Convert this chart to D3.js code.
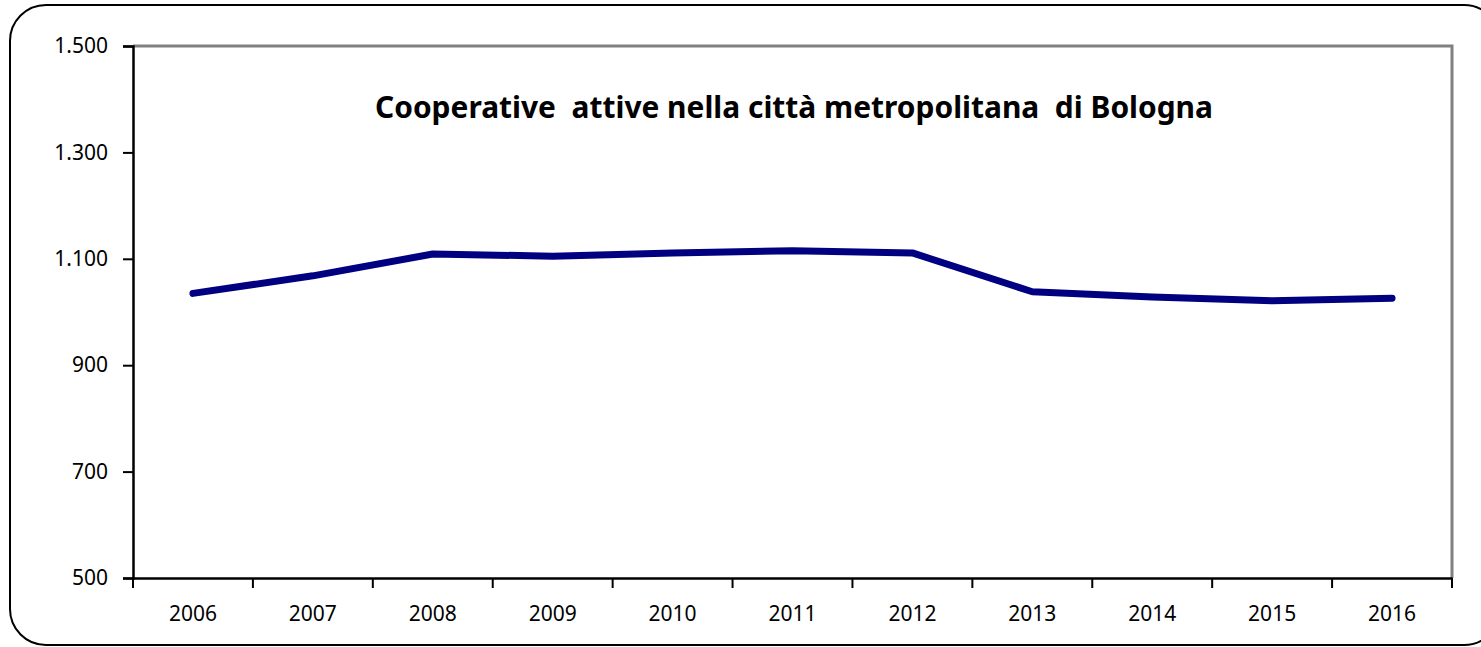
<!DOCTYPE html>
<html lang="it">
<head>
<meta charset="UTF-8">
<title>Cooperative attive nella città metropolitana di Bologna</title>
<style>
  html, body { margin: 0; padding: 0; background: #fff; }
  svg { display: block; font-family: "Noto Sans", sans-serif; }
</style>
</head>
<body>
<svg id="chart" width="1481" height="647"></svg>
<script src="https://cdn.jsdelivr.net/npm/d3@7"></script>
<script>
const years = ["2006", "2007", "2008", "2009", "2010", "2011", "2012", "2013", "2014", "2015", "2016"];
const cooperative = [1035, 1068, 1109, 1105, 1111, 1115, 1111, 1038, 1028, 1021, 1026];
const yTicks = [500, 700, 900, 1100, 1300, 1500];
const title = "Cooperative\u00a0 attive nella città metropolitana\u00a0 di Bologna";

const width = 1481, height = 647;
const margin = {top: 46, right: 29, bottom: 69, left: 133};

const svg = d3.select("#chart");

// rounded frame around the whole chart
svg.append("rect")
  .attr("x", 10).attr("y", 5)
  .attr("width", 1490).attr("height", 640)
  .attr("rx", 36).attr("ry", 36)
  .attr("fill", "#fff")
  .attr("stroke", "#000")
  .attr("stroke-width", 2);

const x = d3.scaleBand()
  .domain(years)
  .range([margin.left, width - margin.right]);

const y = d3.scaleLinear()
  .domain([500, 1500])
  .range([height - margin.bottom, margin.top]);

const fmt = d3.formatLocale({decimal: ",", thousands: ".", grouping: [3], currency: ["€", ""]}).format(",d");

// plot area: grey top and right edges
svg.append("path")
  .attr("d", `M${margin.left},${margin.top}H${width - margin.right}V${height - margin.bottom}`)
  .attr("fill", "none")
  .attr("stroke", "#808080")
  .attr("stroke-width", 3);

const yAxis = svg.append("g")
  .attr("transform", `translate(${margin.left},0)`)
  .call(d3.axisLeft(y).tickValues(yTicks).tickFormat(fmt).tickSize(10).tickPadding(15));

const xAxis = svg.append("g")
  .attr("transform", `translate(0,${height - margin.bottom})`)
  .call(d3.axisBottom(x).tickSize(0).tickPadding(28));

// category boundary ticks on the x axis
xAxis.selectAll(".bound")
  .data(years.concat(["end"]))
  .enter().append("line")
  .attr("class", "bound")
  .attr("x1", (d, i) => i < years.length ? x(d) : x.range()[1])
  .attr("x2", (d, i) => i < years.length ? x(d) : x.range()[1])
  .attr("y1", 0).attr("y2", 10)
  .attr("stroke", "#000").attr("stroke-width", 2);

[yAxis, xAxis].forEach(g => {
  g.attr("font-size", 21).attr("font-family", "Noto Sans, sans-serif");
  g.select(".domain").attr("stroke", "#000").attr("stroke-width", 2.5);
  g.selectAll(".tick line").attr("stroke", "#000").attr("stroke-width", 2);
  g.selectAll("text").attr("font-size", 21).attr("fill", "#000");
});

const line = d3.line()
  .x((d, i) => x(years[i]) + x.bandwidth() / 2)
  .y(d => y(d));

svg.append("path")
  .datum(cooperative)
  .attr("d", line)
  .attr("fill", "none")
  .attr("stroke", "#000080")
  .attr("stroke-width", 7)
  .attr("stroke-linecap", "round")
  .attr("stroke-linejoin", "round");

svg.append("text")
  .attr("x", 375).attr("y", 118)
  .attr("font-size", 31)
  .attr("font-weight", "bold")
  .attr("textLength", 838)
  .attr("lengthAdjust", "spacingAndGlyphs")
  .text(title);
</script>
</body>
</html>
